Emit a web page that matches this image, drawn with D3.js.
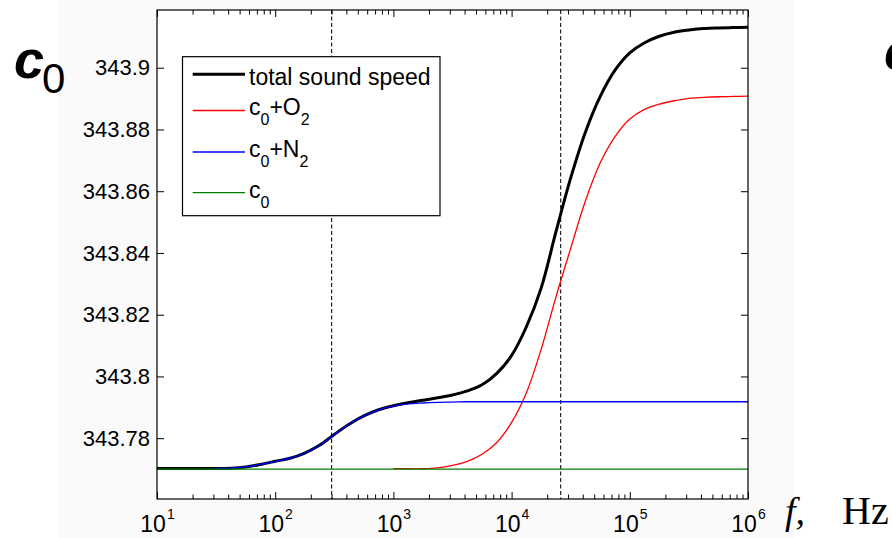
<!DOCTYPE html>
<html lang="en">
<head>
<meta charset="UTF-8">
<title>Sound speed dispersion</title>
<script src="https://cdn.jsdelivr.net/npm/d3@7"></script>
<style>
  body { margin: 0; background: #fff; }
  svg { display: block; font-family: "Liberation Sans", Arial, sans-serif; }
</style>
</head>
<body>
<svg></svg>
<script>
// frequency grid (Hz), eighth-decade steps
const freq = [10, 13.34, 17.78, 23.71, 31.62, 42.17, 56.23, 74.99,
  100, 133.4, 177.8, 237.1, 316.2, 421.7, 562.3, 749.9,
  1000, 1334, 1778, 2371, 3162, 4217, 5623, 7499,
  1e4, 13340, 17780, 23710, 31620, 42170, 56230, 74990,
  1e5, 133400, 177800, 237100, 316200, 421700, 562300, 749900, 1e6]

const totalSpeed = [343.7702, 343.7702, 343.7702, 343.7702, 343.7702, 343.7703, 343.7707, 343.7715,
  343.7725, 343.7735, 343.7752, 343.7777, 343.7812, 343.7845, 343.7872, 343.7892,
  343.7905, 343.7915, 343.7923, 343.7931, 343.7940, 343.7953, 343.7973, 343.8010,
  343.8068, 343.8161, 343.8286, 343.8468, 343.8643, 343.8792, 343.8907, 343.8992,
  343.9048, 343.9081, 343.9102, 343.9115, 343.9122, 343.9127, 343.9129, 343.9130, 343.9131]

const speedO2 = [null, null, null, null, null, null, null, null,
  null, null, null, null, null, null, null, null,
  343.7701, 343.7701, 343.7701, 343.7704, 343.7712, 343.7725, 343.7748, 343.7786,
  343.7851, 343.7947, 343.8088, 343.8257, 343.8415, 343.8569, 343.8692, 343.8777,
  343.8834, 343.8865, 343.8882, 343.8893, 343.8901, 343.8904, 343.8906, 343.8907, 343.8908]

const speedN2 = [null, null, null, null, 343.7702, 343.7703, 343.7707, 343.7715,
  343.7725, 343.7735, 343.7752, 343.7777, 343.7812, 343.7845, 343.7872, 343.7892,
  343.7904, 343.7911, 343.7914, 343.7916, 343.7917, 343.7918, 343.7918, 343.7918,
  343.7918, 343.7918, 343.7918, 343.7918, 343.7918, 343.7918, 343.7918, 343.7918,
  343.7918, 343.7918, 343.7918, 343.7918, 343.7918, 343.7918, 343.7918, 343.7918, 343.7918]

const speedC0 = freq.map(() => 343.7700)

const yTicks = [343.78, 343.8, 343.82, 343.84, 343.86, 343.88, 343.9]
const xMajor = [10, 100, 1000, 1e4, 1e5, 1e6]
const xExponents = ["1", "2", "3", "4", "5", "6"]
const relaxFreq = [300, 26000]

var width = 892
var height = 538
// plot box edges (window.top is reserved, so own names)
var boxL = 157, boxR = 748, boxT = 10, boxB = 499

var svg = d3.select("svg")
  .attr("width", width)
  .attr("height", height)

// light figure background
svg.append("rect")
  .attr("x", 58).attr("y", 0)
  .attr("width", 737).attr("height", height)
  .attr("fill", "#fafafa")

var x = d3.scaleLog().domain([10, 1e6]).range([boxL, boxR])
var y = d3.scaleLinear().domain([343.7603, 343.9187]).range([boxB, boxT])

svg.append("rect")
  .attr("x", boxL).attr("y", boxT)
  .attr("width", boxR - boxL).attr("height", boxB - boxT)
  .attr("fill", "#fff")

// dashed relaxation markers
svg.selectAll(".relax")
  .data(relaxFreq)
  .join("line")
  .attr("class", "relax")
  .attr("x1", d => x(d)).attr("x2", d => x(d))
  .attr("y1", boxT).attr("y2", boxB)
  .attr("stroke", "#222")
  .attr("stroke-width", 1.2)
  .attr("stroke-dasharray", "4,2.5")

var line = d3.line()
  .defined(d => d[1] != null)
  .x(d => x(d[0]))
  .y(d => y(d[1]))
  .curve(d3.curveCatmullRom.alpha(0.5))

const series = [
  {values: totalSpeed, color: "#000", w: 3},
  {values: speedO2, color: "#ff0000", w: 1.3},
  {values: speedN2, color: "#0000ff", w: 1.3},
  {values: speedC0, color: "#008000", w: 1.3}
]

svg.selectAll(".curve")
  .data(series)
  .join("path")
  .attr("class", "curve")
  .attr("fill", "none")
  .attr("stroke", d => d.color)
  .attr("stroke-width", d => d.w)
  .attr("d", d => line(freq.map((f, i) => [f, d.values[i]])))

// axes, ticks pointing inward on all four sides
var minor = x.ticks().filter(t => !xMajor.includes(t))

function noDomain(g) { g.select(".domain").remove() }

svg.append("g").attr("transform", `translate(0,${boxB})`)
  .call(d3.axisBottom(x).tickValues(minor).tickSize(-4.5).tickFormat("")).call(noDomain)
svg.append("g").attr("transform", `translate(0,${boxT})`)
  .call(d3.axisTop(x).tickValues(minor).tickSize(-4.5).tickFormat("")).call(noDomain)
svg.append("g").attr("transform", `translate(0,${boxT})`)
  .call(d3.axisTop(x).tickValues(xMajor).tickSize(-7).tickFormat("")).call(noDomain)

var xg = svg.append("g").attr("transform", `translate(0,${boxB})`)
  .call(d3.axisBottom(x).tickValues(xMajor).tickSize(-7).tickFormat("")).call(noDomain)

xg.selectAll(".tick").append("text")
  .attr("y", 32.7)
  .attr("fill", "#000")
  .attr("font-size", 23)
  .attr("font-family", "Liberation Sans, Arial, sans-serif")
  .attr("text-anchor", "middle")
  .each(function(d, i) {
    var t = d3.select(this)
    t.append("tspan").text("10")
    t.append("tspan").attr("dy", -12.5).attr("dx", 1).attr("font-size", 14).text(xExponents[i])
  })

var yg = svg.append("g").attr("transform", `translate(${boxL},0)`)
  .call(d3.axisLeft(y).tickValues(yTicks).tickSize(-7).tickPadding(7)
    .tickFormat(d => String(+d.toFixed(2))))
  .call(noDomain)
yg.selectAll("text").attr("font-size", 22).attr("fill", "#000")
  .attr("font-family", "Liberation Sans, Arial, sans-serif")

svg.append("g").attr("transform", `translate(${boxR},0)`)
  .call(d3.axisRight(y).tickValues(yTicks).tickSize(-7).tickFormat("")).call(noDomain)

svg.append("rect")
  .attr("x", boxL).attr("y", boxT)
  .attr("width", boxR - boxL).attr("height", boxB - boxT)
  .attr("fill", "none").attr("stroke", "#000").attr("stroke-width", 1.2)

// legend
var legendRows = [
  {parts: [["total sound speed", 0]], color: "#000", w: 3, ly: 74.3, base: 10.5},
  {parts: [["c", 0], ["0", 1], ["+O", 0], ["2", 1]], color: "#ff0000", w: 1.3, ly: 110.5, base: 4.7},
  {parts: [["c", 0], ["0", 1], ["+N", 0], ["2", 1]], color: "#0000ff", w: 1.3, ly: 152, base: 4.7},
  {parts: [["c", 0], ["0", 1]], color: "#008000", w: 1.3, ly: 192.7, base: 5.5}
]

var lg = svg.append("g")
lg.append("rect")
  .attr("x", 182.5).attr("y", 56.7)
  .attr("width", 257.5).attr("height", 159)
  .attr("fill", "#fff").attr("stroke", "#000").attr("stroke-width", 1.2)

legendRows.forEach(r => {
  lg.append("line")
    .attr("x1", 192.7).attr("x2", 245)
    .attr("y1", r.ly).attr("y2", r.ly)
    .attr("stroke", r.color).attr("stroke-width", r.w)
  var t = lg.append("text")
    .attr("x", 249).attr("y", r.ly + r.base)
    .attr("font-size", 23)
  var shift = 0
  r.parts.forEach(p => {
    var dy = (p[1] ? 10 : 0) - shift
    shift = p[1] ? 10 : 0
    t.append("tspan").attr("dy", dy)
      .attr("font-size", p[1] ? 16 : 23)
      .text(p[0])
  })
})

// big axis labels
var cl = svg.append("text").attr("x", 14).attr("y", 78)
cl.append("tspan").attr("font-size", 54).attr("font-style", "italic").attr("font-weight", "bold").text("c")
cl.append("tspan").attr("x", 42).attr("y", 92.7).attr("font-size", 42).text("0")

svg.append("text").attr("x", 884).attr("y", 70)
  .attr("font-size", 54).attr("font-style", "italic").attr("font-weight", "bold").text("c")

svg.append("text").attr("x", 785).attr("y", 524)
  .attr("font-family", "Liberation Serif, Times New Roman, serif")
  .attr("font-size", 38).attr("font-style", "italic").text("f,")
svg.append("text").attr("x", 842).attr("y", 524)
  .attr("font-family", "Liberation Serif, Times New Roman, serif")
  .attr("font-size", 40).text("Hz")
</script>
</body>
</html>
